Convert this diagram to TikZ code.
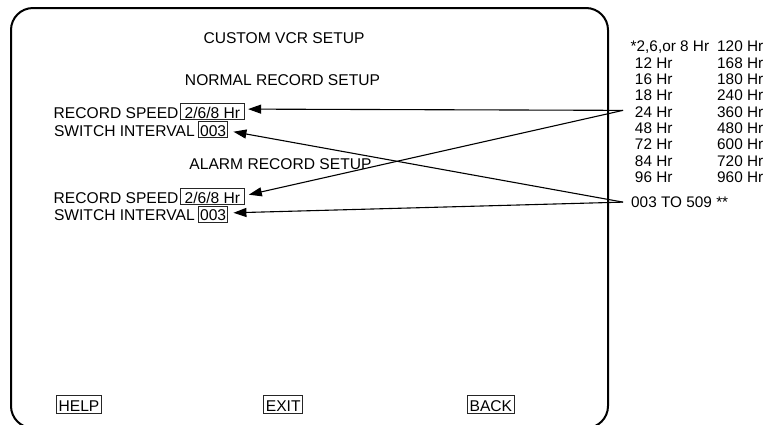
\documentclass[tikz,border=0pt]{standalone}
\usepackage{fontspec}
\setmainfont{Liberation Sans}
\usetikzlibrary{arrows.meta,calc}
\begin{document}
\begin{tikzpicture}[x=1pt,y=-1pt,
  every node/.style={font=\fontsize{15.6pt}{16.3pt}\selectfont},
  lbl/.style={anchor=base west, inner sep=0pt},
  lst/.style={lbl, font=\fontsize{15.35pt}{16.3pt}\selectfont},
  ttl/.style={anchor=base, inner sep=0pt},
  valbox/.style={draw=black!85, line width=0.8pt, anchor=base west, inner xsep=1.4pt, inner ysep=0.9pt, text height=13.9pt, text depth=0.7pt},
  btn/.style={valbox, inner xsep=2.2pt, text height=15pt, text depth=1pt},
  conn/.style={line width=1.1pt, -{Triangle[length=13pt,width=9pt]}},
  scrframe/.style={line width=2pt, rounded corners=22pt}]
\useasboundingbox (0,0) rectangle (775,424);
\clip (0,0) rectangle (775,424);
% screen frame
\draw[scrframe] (11,428) -- (11,8) -- (608,8) -- (608,428) -- cycle;
% titles
\node[ttl] (title) at (284,43.5) {CUSTOM VCR SETUP};
\node[ttl] (normal) at (282.5,85) {NORMAL RECORD SETUP};
\node[ttl] (alarm) at (280.5,169.3) {ALARM RECORD SETUP};
% normal record setup
\node[lbl] (rsl1) at (53.5,118) {RECORD SPEED};
\node[valbox, minimum width=64pt] (rs1) at (180,118) {2/6/8 Hr};
\node[lbl] (sil1) at (53.8,136) {SWITCH INTERVAL};
\node[valbox] (si1) at (198.3,136) {003};
% alarm record setup
\node[lbl] (rsl2) at (53.5,203) {RECORD SPEED};
\node[valbox, minimum width=64pt] (rs2) at (180,203) {2/6/8 Hr};
\node[lbl] (sil2) at (53.8,220.7) {SWITCH INTERVAL};
\node[valbox] (si2) at (198.3,220.7) {003};
% buttons
\node[btn] (help) at (56,411.5) {HELP};
\node[btn] (exit) at (263.3,411.5) {EXIT};
\node[btn] (back) at (467,411.5) {BACK};
% option list
\foreach \t [count=\i from 0] in {{*2,6,or 8 Hr},{\ 12 Hr},{\ 16 Hr},{\ 18 Hr},{\ 24 Hr},{\ 48 Hr},{\ 72 Hr},{\ 84 Hr},{\ 96 Hr}}
  \node[lst] (ca\i) at (630.5,51.7+16.33*\i) {\t};
\foreach \t [count=\i from 0] in {120 Hr,168 Hr,180 Hr,240 Hr,360 Hr,480 Hr,600 Hr,720 Hr,960 Hr}
  \node[lst] (cb\i) at (717,51.7+16.33*\i) {\t};
\node[lst] (range) at (631,207.4) {003 TO 509 **};
% connector ends
\coordinate (s1) at ($(ca4.west)+(-7.5pt,1.3pt)$);
\coordinate (s2) at ($(range.west)+(-8pt,0pt)$);
\coordinate (t1) at ($(rs1.east)+(3.3pt,2.3pt)$);
\coordinate (t2) at ($(si1.east)+(5.5pt,-2.3pt)$);
\coordinate (t3) at ($(rs2.east)+(4pt,1.7pt)$);
\coordinate (t4) at ($(si2.east)+(5.5pt,1.3pt)$);
\draw[conn] (s1) -- (t1);
\draw[conn] (s1) -- (t3);
\draw[conn] (s2) -- (t2);
\draw[conn] (s2) -- (t4);
\end{tikzpicture}
\end{document}
